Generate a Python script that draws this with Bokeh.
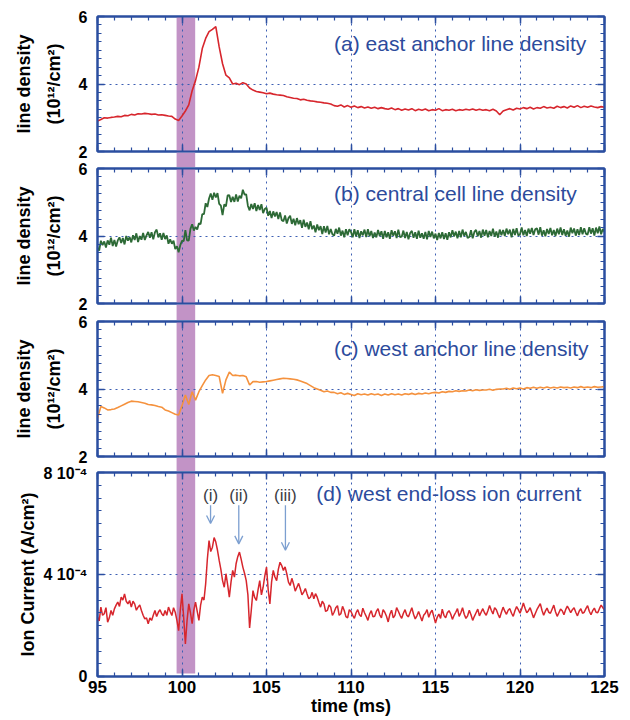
import numpy as np
from bokeh.plotting import figure
from bokeh.layouts import column
from bokeh.models import (FixedTicker, LinearAxis, BoxAnnotation, Label, Arrow,
                          OpenHead, Range1d, ColumnDataSource)
from bokeh.embed import file_html
from bokeh.resources import INLINE

# ---------------- data ----------------
# (a) east anchor line density, 1e12/cm^2, every 0.2 ms from 95.0 ms (one row per ms)
east_anchor = [
    2.90, 2.95, 3.00, 2.99, 3.01,   # 95
    3.02, 3.04, 3.03, 3.07, 3.06,   # 96
    3.10, 3.08, 3.12, 3.11, 3.13,   # 97
    3.12, 3.10, 3.11, 3.08, 3.09,   # 98
    3.07, 3.05, 3.04, 2.96, 2.92,   # 99
    3.05, 3.20, 3.38, 3.80, 4.10,   # 100
    4.50, 5.05, 5.35, 5.55, 5.62,   # 101
    5.70, 5.10, 4.60, 4.26, 4.18,   # 102
    4.00, 4.02, 3.98, 4.04, 4.00,   # 103
    3.88, 3.82, 3.78, 3.76, 3.74,   # 104
    3.71, 3.73, 3.70, 3.68, 3.67,   # 105
    3.66, 3.62, 3.60, 3.58, 3.57,   # 106
    3.53, 3.55, 3.52, 3.50, 3.49,   # 107
    3.47, 3.46, 3.44, 3.43, 3.41,   # 108
    3.36, 3.34, 3.38, 3.32, 3.36,   # 109
    3.31, 3.35, 3.30, 3.33, 3.29,   # 110
    3.32, 3.28, 3.31, 3.27, 3.30,   # 111
    3.27, 3.25, 3.29, 3.24, 3.27,   # 112
    3.22, 3.26, 3.23, 3.27, 3.21,   # 113
    3.25, 3.22, 3.26, 3.21, 3.24,   # 114
    3.22, 3.27, 3.21, 3.24, 3.22,   # 115
    3.25, 3.21, 3.24, 3.22, 3.25,   # 116
    3.23, 3.26, 3.22, 3.25, 3.22,   # 117
    3.24, 3.21, 3.25, 3.20, 3.09,   # 118
    3.20, 3.24, 3.27, 3.23, 3.28,   # 119
    3.26, 3.30, 3.27, 3.31, 3.26,   # 120
    3.30, 3.28, 3.33, 3.29, 3.31,   # 121
    3.28, 3.34, 3.30, 3.33, 3.29,   # 122
    3.35, 3.31, 3.36, 3.30, 3.34,   # 123
    3.31, 3.35, 3.32, 3.30, 3.33,   # 124
    3.31,                           # 125
]

# (c) west anchor line density, every 0.2 ms
west_anchor = [
    3.13, 3.48, 3.44, 3.38, 3.39,   # 95
    3.41, 3.45, 3.50, 3.55, 3.60,   # 96
    3.64, 3.63, 3.62, 3.60, 3.58,   # 97
    3.54, 3.53, 3.51, 3.48, 3.46,   # 98
    3.38, 3.35, 3.30, 3.25, 3.23,   # 99
    3.50, 3.82, 3.54, 3.92, 3.67,   # 100
    3.92, 4.10, 4.27, 4.40, 4.42,   # 101
    4.40, 4.37, 3.87, 4.27, 4.50,   # 102
    4.40, 4.41, 4.39, 4.40, 4.36,   # 103
    4.12, 4.22, 4.22, 4.20, 4.21,   # 104
    4.22, 4.24, 4.26, 4.28, 4.30,   # 105
    4.32, 4.31, 4.30, 4.29, 4.27,   # 106
    4.24, 4.20, 4.16, 4.10, 4.04,   # 107
    4.00, 3.96, 3.92, 3.94, 3.90,   # 108
    3.90, 3.86, 3.89, 3.84, 3.87,   # 109
    3.84, 3.81, 3.86, 3.83, 3.85,   # 110
    3.82, 3.86, 3.83, 3.85, 3.81,   # 111
    3.85, 3.82, 3.86, 3.83, 3.85,   # 112
    3.82, 3.86, 3.84, 3.87, 3.84,   # 113
    3.87, 3.85, 3.88, 3.86, 3.89,   # 114
    3.90, 3.88, 3.92, 3.90, 3.93,   # 115
    3.92, 3.95, 3.93, 3.95, 3.94,   # 116
    3.97, 3.95, 3.98, 3.96, 3.97,   # 117
    3.97, 3.99, 3.96, 3.99, 4.00,   # 118
    4.00, 4.02, 3.99, 4.03, 4.01,   # 119
    4.03, 4.00, 4.04, 4.02, 4.05,   # 120
    4.02, 4.05, 4.03, 4.06, 4.03,   # 121
    4.05, 4.03, 4.06, 4.04, 4.05,   # 122
    4.03, 4.06, 4.04, 4.07, 4.04,   # 123
    4.06, 4.04, 4.07, 4.05, 4.06,   # 124
    4.07,                           # 125
]

# (b) central cell line density, every 0.1 ms (one row per ms)
central_cell = [
    3.65, 3.57, 3.86, 3.73, 3.84, 3.66, 3.87, 3.74, 3.95, 3.70,   # 95
    3.88, 3.69, 3.87, 3.96, 3.79, 3.94, 3.75, 4.00, 3.86, 3.97,   # 96
    3.81, 4.02, 3.88, 4.08, 3.82, 4.00, 3.89, 4.09, 3.88, 4.02,   # 97
    4.12, 3.95, 4.11, 3.90, 4.11, 4.19, 3.96, 4.08, 3.89, 4.09,   # 98
    3.91, 4.02, 3.77, 3.90, 3.77, 3.86, 3.61, 3.70, 3.52, 3.73,   # 99
    3.86, 3.85, 4.17, 3.87, 3.86, 4.21, 4.35, 4.16, 4.27, 4.19,   # 100
    4.38, 4.35, 4.65, 4.65, 4.97, 4.86, 5.11, 5.26, 5.07, 5.28,   # 101
    5.14, 5.27, 4.95, 4.90, 4.62, 4.94, 4.88, 5.20, 5.21, 5.01,   # 102
    5.16, 5.01, 5.23, 5.02, 5.19, 5.12, 5.37, 5.23, 5.23, 4.89,   # 103
    4.76, 4.95, 4.80, 4.97, 4.74, 4.92, 4.77, 4.94, 4.68, 4.80,   # 104
    4.84, 4.60, 4.74, 4.53, 4.73, 4.58, 4.71, 4.50, 4.70, 4.47,   # 105
    4.44, 4.61, 4.37, 4.53, 4.60, 4.36, 4.51, 4.32, 4.53, 4.35,   # 106
    4.47, 4.24, 4.48, 4.27, 4.40, 4.20, 4.44, 4.20, 4.31, 4.11,   # 107
    4.34, 4.17, 4.29, 4.06, 4.29, 4.10, 4.30, 4.05, 4.21, 4.05,   # 108
    4.01, 4.21, 4.07, 4.25, 4.01, 4.16, 3.96, 4.20, 4.02, 4.20,   # 109
    4.12, 3.96, 4.20, 3.99, 4.17, 3.94, 4.14, 4.02, 4.19, 3.97,   # 110
    4.20, 3.99, 4.15, 3.94, 4.10, 3.96, 4.18, 4.00, 4.14, 3.92,   # 111
    4.15, 3.96, 4.11, 3.92, 4.17, 4.01, 4.14, 3.94, 4.19, 3.97,   # 112
    3.98, 4.16, 3.94, 4.12, 3.90, 4.09, 4.15, 3.95, 4.11, 3.92,   # 113
    4.16, 3.95, 4.08, 3.92, 4.12, 3.90, 4.15, 3.97, 4.13, 3.93,   # 114
    4.07, 3.88, 4.09, 3.93, 4.11, 3.91, 4.08, 3.89, 4.11, 3.96,   # 115
    4.17, 3.99, 4.13, 3.93, 4.15, 3.96, 4.19, 4.00, 4.12, 3.94,   # 116
    3.97, 4.17, 3.93, 4.12, 4.18, 3.99, 4.15, 3.95, 4.19, 4.01,   # 117
    4.18, 3.96, 4.15, 4.00, 4.22, 3.98, 4.13, 3.95, 4.19, 4.02,   # 118
    4.18, 4.00, 4.22, 4.05, 4.19, 3.96, 4.21, 4.03, 4.23, 4.01,   # 119
    4.05, 4.25, 4.02, 4.18, 4.00, 4.22, 4.07, 4.24, 4.03, 4.20,   # 120
    4.23, 4.04, 4.26, 4.01, 4.17, 3.99, 4.21, 4.06, 4.24, 4.02,   # 121
    4.18, 4.00, 4.22, 4.05, 4.25, 4.03, 4.20, 4.01, 4.16, 3.98,   # 122
    4.25, 4.08, 4.22, 4.01, 4.20, 4.03, 4.26, 4.05, 4.23, 4.07,   # 123
    4.04, 4.26, 4.07, 4.23, 4.01, 4.25, 4.08, 4.28, 4.05, 4.21,   # 124
    4.12,                                                         # 125
]

# (d) west end-loss ion current, units of 1e-4 A/cm^2, every 0.1 ms
ion_current = [
    2.33, 2.18, 2.72, 2.40, 2.46, 2.70, 2.13, 2.30, 2.59, 2.40,   # 95
    2.65, 2.80, 2.92, 2.75, 3.11, 3.00, 3.24, 2.95, 2.85, 2.98,   # 96
    2.72, 2.95, 2.85, 2.60, 2.72, 2.80, 2.59, 2.40, 2.26, 2.30,   # 97
    2.07, 2.30, 2.20, 2.40, 2.59, 2.35, 2.52, 2.62, 2.46, 2.38,   # 98
    2.59, 2.40, 2.72, 2.55, 2.39, 2.70, 2.52, 2.20, 1.80, 2.60,   # 99
    3.24, 2.30, 1.28, 2.20, 2.85, 2.50, 2.07, 2.60, 2.92, 2.55,   # 100
    2.20, 2.80, 3.11, 3.00, 3.63, 4.60, 5.33, 4.90, 5.07, 5.45,   # 101
    5.27, 4.95, 4.55, 4.20, 3.76, 3.50, 4.03, 3.60, 3.11, 3.70,   # 102
    4.16, 3.90, 4.42, 4.70, 4.88, 4.60, 4.29, 4.05, 3.76, 3.20,   # 103
    1.90, 2.60, 3.37, 3.10, 2.98, 3.40, 3.76, 3.20, 3.50, 3.95,   # 104
    4.29, 3.40, 2.85, 3.70, 4.16, 3.90, 3.76, 4.20, 4.48, 4.35,   # 105
    4.16, 4.30, 4.03, 3.70, 3.57, 3.85, 3.63, 3.35, 3.50, 3.65,   # 106
    3.44, 3.20, 3.31, 3.45, 3.24, 3.05, 3.11, 3.30, 3.05, 3.25,   # 107
    3.11, 2.90, 2.72, 2.95, 2.85, 2.55, 2.59, 2.80, 2.72, 2.40,   # 108
    2.52, 2.70, 2.78, 2.40, 2.46, 2.75, 2.59, 2.35, 2.30, 2.62,   # 109
    2.55, 2.40, 2.28, 2.50, 2.62, 2.42, 2.35, 2.68, 2.50, 2.36,   # 110
    2.20, 2.45, 2.58, 2.34, 2.36, 2.55, 2.66, 2.42, 2.30, 2.62,   # 111
    2.52, 2.36, 2.14, 2.44, 2.60, 2.30, 2.40, 2.70, 2.56, 2.40,   # 112
    2.28, 2.48, 2.62, 2.40, 2.34, 2.52, 2.70, 2.44, 2.26, 2.38,   # 113
    2.55, 2.36, 2.18, 2.40, 2.48, 2.62, 2.32, 2.50, 2.60, 2.35,   # 114
    2.10, 2.32, 2.45, 2.28, 2.64, 2.40, 2.30, 2.50, 2.58, 2.45,   # 115
    2.24, 2.40, 2.52, 2.66, 2.36, 2.50, 2.70, 2.44, 2.28, 2.38,   # 116
    2.60, 2.42, 2.20, 2.36, 2.50, 2.64, 2.38, 2.52, 2.66, 2.50,   # 117
    2.40, 2.58, 2.78, 2.60, 2.45, 2.70, 2.62, 2.44, 2.30, 2.52,   # 118
    2.72, 2.56, 2.44, 2.60, 2.66, 2.48, 2.36, 2.58, 2.74, 2.62,   # 119
    2.48, 2.66, 2.88, 2.68, 2.50, 2.58, 2.70, 2.50, 2.30, 2.46,   # 120
    2.62, 2.74, 2.86, 2.60, 2.40, 2.56, 2.68, 2.52, 2.48, 2.64,   # 121
    2.80, 2.54, 2.36, 2.50, 2.64, 2.58, 2.42, 2.62, 2.76, 2.64,   # 122
    2.50, 2.62, 2.70, 2.52, 2.38, 2.56, 2.66, 2.48, 2.52, 2.66,   # 123
    2.78, 2.56, 2.42, 2.58, 2.68, 2.52, 2.50, 2.66, 2.80, 2.70,   # 124
    2.62,                                                         # 125
]

time_coarse = [round(95 + 0.2 * i, 1) for i in range(len(east_anchor))]
time_fine = [round(95 + 0.1 * i, 1) for i in range(len(central_cell))]

panel_titles = ["(a) east anchor line density", "(b) central cell line density",
                "(c) west anchor line density", "(d) west end-loss ion current"]
x_major = [95, 100, 105, 110, 115, 120, 125]
density_major = [2, 4, 6]
current_major = [0, 4, 8]
current_labels = {0: "0", 4: "4 10\u207b\u2074", 8: "8 10\u207b\u2074"}
event_names = ["(i)", "(ii)", "(iii)"]
event_times = [101.69, 103.36, 106.12]
event_tips = [6.0, 5.2, 4.95]
gas_puff = (99.68, 100.78)

# ---------------- style ----------------
FONT = "Liberation Sans"
BLUE = "#2b4ea0"
GRID = "#3d5fb3"
TITLE = "#2c4b9c"
BAND = "#c293c6"

x_minor = list(np.arange(95, 125.01, 1.0))


def style_axis(ax, show_labels, ticks=None):
    ax.axis_line_color = BLUE
    ax.axis_line_width = 2
    ax.major_tick_line_color = BLUE
    ax.minor_tick_line_color = BLUE
    ax.major_tick_line_width = 1.5
    ax.minor_tick_line_width = 1.2
    ax.major_tick_in = 7
    ax.major_tick_out = 0
    ax.minor_tick_in = 4
    ax.minor_tick_out = 0
    if show_labels:
        ax.major_label_text_font = FONT
        ax.major_label_text_font_style = "bold"
        ax.major_label_text_color = "black"
    else:
        ax.major_label_overrides = {t: "" for t in ticks}
        ax.major_label_text_font_size = "1px"
        ax.major_label_standoff = 0


def make_panel(xvals, yvals, color, lw, ylo, yhi, ymajor, ystep, title, title_x, title_y,
               ylabel, label_standoff, top_b, bottom_b, frame_h, last=False):
    p = figure(frame_width=507, frame_height=frame_h,
               x_range=Range1d(95, 125), y_range=Range1d(ylo, yhi),
               min_border_left=97, min_border_right=26,
               min_border_top=top_b, min_border_bottom=bottom_b,
               toolbar_location=None, output_backend="svg")
    p.outline_line_color = BLUE
    p.outline_line_width = 2
    p.border_fill_alpha = 0
    p.background_fill_color = "white"

    xt = FixedTicker(ticks=x_major, minor_ticks=x_minor)
    yminor = list(np.arange(ylo, yhi + 1e-9, ystep))
    yt = FixedTicker(ticks=ymajor, minor_ticks=yminor)

    p.xaxis.ticker = xt
    p.yaxis.ticker = yt
    style_axis(p.xaxis[0], last, x_major)
    style_axis(p.yaxis[0], True)
    p.yaxis.major_label_text_font_size = "16px"
    p.yaxis.major_label_standoff = 10
    p.yaxis.axis_label = ylabel
    p.yaxis.axis_label_text_font = FONT
    p.yaxis.axis_label_text_font_style = "bold"
    p.yaxis.axis_label_text_font_size = "18px"
    p.yaxis.axis_label_text_color = "black"
    p.yaxis.axis_label_text_line_height = 1.5
    p.yaxis.axis_label_standoff = label_standoff

    if last:
        p.xaxis.major_label_text_font_size = "17px"
        p.xaxis.major_label_standoff = 4
        p.xaxis.axis_label = "time (ms)"
        p.xaxis.axis_label_text_font = FONT
        p.xaxis.axis_label_text_font_style = "bold"
        p.xaxis.axis_label_text_font_size = "18px"
        p.xaxis.axis_label_text_color = "black"
        p.xaxis.axis_label_standoff = 0
        p.yaxis.major_label_overrides = current_labels

    top_ax = LinearAxis(ticker=xt)
    style_axis(top_ax, False, x_major)
    p.add_layout(top_ax, "above")
    right_ax = LinearAxis(ticker=yt)
    style_axis(right_ax, False, ymajor)
    p.add_layout(right_ax, "right")

    p.xgrid.ticker = FixedTicker(ticks=x_major[1:-1])
    p.ygrid.ticker = FixedTicker(ticks=[ymajor[1]])
    for g in (p.xgrid[0], p.ygrid[0]):
        g.grid_line_color = GRID
        g.grid_line_dash = "dotted"
        g.grid_line_width = 1

    bottom_edge = ylo + 0.015 * (yhi - ylo) if last else ylo
    band = BoxAnnotation(left=gas_puff[0], right=gas_puff[1], top=yhi, bottom=bottom_edge,
                         fill_color=BAND, fill_alpha=1.0, line_alpha=0, level="underlay")
    p.center = [band] + list(p.center)

    src = ColumnDataSource(dict(t=xvals, v=yvals))
    p.line("t", "v", source=src, line_color=color, line_width=lw)

    p.add_layout(Label(x=title_x, y=title_y, text=title, text_font=FONT,
                       text_font_size="21px", text_color=TITLE,
                       text_align="left", text_baseline="middle"))
    return p


def make_gap(height, m_top, m_bottom):
    """Thin strip between two panels that continues the shaded interval."""
    g = figure(frame_width=507, frame_height=height,
               x_range=Range1d(95, 125), y_range=Range1d(0, 1),
               min_border_left=97, min_border_right=26,
               min_border_top=0, min_border_bottom=0,
               x_axis_type=None, y_axis_type=None,
               toolbar_location=None, output_backend="svg")
    g.grid.visible = False
    g.outline_line_color = None
    g.border_fill_alpha = 0
    g.background_fill_alpha = 0
    g.quad(left=[gas_puff[0]], right=[gas_puff[1]], bottom=[0], top=[1],
           fill_color=BAND, line_color=None)
    g.styles = {"margin-top": f"{m_top}px", "margin-bottom": f"{m_bottom}px"}
    return g


DL = "line density\n(10\u00b9\u00b2/cm\u00b2)"
pa = make_panel(time_coarse, east_anchor, "#d7262d", 1.6, 2, 6, density_major, 0.25,
                panel_titles[0], 109.0, 5.2, DL, 12, 16, 8, 135)
pb = make_panel(time_fine, central_cell, "#2d6a36", 1.8, 2, 6, density_major, 0.25,
                panel_titles[1], 109.0, 5.26, DL, 12, 9, 9, 135)
pc = make_panel(time_coarse, west_anchor, "#f5923e", 1.6, 2, 6, density_major, 0.25,
                panel_titles[2], 109.0, 5.2, DL, 12, 9, 8, 135)
pd = make_panel(time_fine, ion_current, "#d7262d", 1.5, 0, 8, current_major, 0.5,
                panel_titles[3], 107.95, 7.18, "Ion Current (A/cm\u00b2)", 2,
                8, 44, 204, last=True)

ARROW = "#7c9fd0"
for name, t, tip in zip(event_names, event_times, event_tips):
    pd.add_layout(Label(x=t, y=7.1, text=name, text_font=FONT, text_font_size="17px",
                        text_color="#3c3c44", text_align="center", text_baseline="middle"))
    pd.add_layout(Arrow(x_start=t, y_start=6.72, x_end=t, y_end=tip,
                        line_color=ARROW, line_width=1.3,
                        end=OpenHead(size=8, line_color=ARROW, line_width=1.3)))

g1 = make_gap(15, -7, -8)
g2 = make_gap(16, -8, -8)
g3 = make_gap(14, -7, -7)

layout = column(pa, g1, pb, g2, pc, g3, pd, spacing=0)
open("out.html", "w").write(file_html(layout, INLINE))
